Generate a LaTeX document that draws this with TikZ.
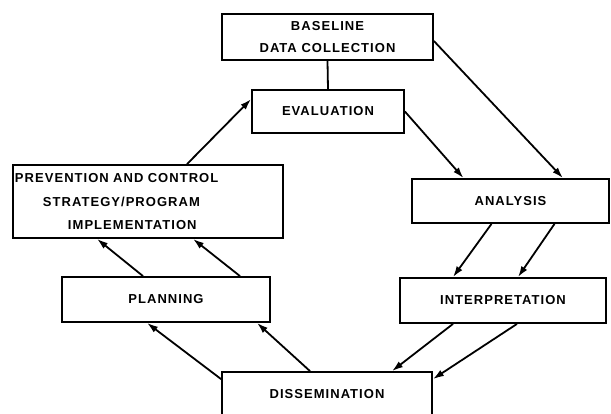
\documentclass[tikz,border=0pt]{standalone}
\usepackage{fontspec}
\setmainfont{Liberation Sans}[LetterSpace=8]
\usetikzlibrary{arrows.meta}

\begin{document}
\begin{tikzpicture}[x=1pt,y=-1pt,
  box/.style={rectangle,draw,line width=1.8pt,inner sep=2pt,font=\fontsize{13}{22}\selectfont\bfseries},
  link/.style={line width=1.8pt,-{Latex[length=11pt,width=7pt]}}]
\useasboundingbox (0,0) rectangle (611,413);
\clip (0,0) rectangle (611,413);
\path
(327.5,37) node [box,minimum width=211pt,minimum height=46pt,align=center] (base) {BASELINE\\DATA COLLECTION}
(328,111.5) node [box,minimum width=152pt,minimum height=43pt] (eval) {EVALUATION}
(148,201.5) node [box,text width=266pt,minimum height=73pt,align=left] (prev) {PREVENTION AND CONTROL\\[2pt]\hspace*{28pt}STRATEGY/PROGRAM\\[1pt]\hspace*{53pt}IMPLEMENTATION}
(166,299.5) node [box,minimum width=208pt,minimum height=45pt] (plan) {PLANNING}
(327,394) node [box,minimum width=210pt,minimum height=44pt] (diss) {DISSEMINATION}
(510.5,201) node [box,minimum width=197pt,minimum height=44pt] (ana) {ANALYSIS}
(503,300.5) node [box,minimum width=206pt,minimum height=45pt] (interp) {INTERPRETATION}
;

\draw[line width=1.8pt] (base.south) -- (eval.north);
\draw[link] ([yshift=-4pt]base.east) -- ([xshift=52.5pt]ana.north);
\draw[link] (eval.east) -- ([xshift=-47pt]ana.north);
\draw[link] ([xshift=-19pt]ana.south) -- ([xshift=-50pt]interp.north);
\draw[link] ([xshift=44pt]ana.south) -- ([xshift=15pt]interp.north);
\draw[link] ([xshift=-50pt]interp.south) -- ([xshift=65pt]diss.north);
\draw[link] ([xshift=14pt]interp.south) -- ([yshift=-8pt]diss.north east);
\draw[link] ([yshift=-8pt]diss.north west) -- ([xshift=-19pt]plan.south);
\draw[link] ([xshift=-17pt]diss.north) -- ([xshift=91pt]plan.south);
\draw[link] ([xshift=-23pt]plan.north) -- ([xshift=-51pt]prev.south);
\draw[link] ([xshift=74pt]plan.north) -- ([xshift=45pt]prev.south);
\draw[link] ([xshift=39pt]prev.north) -- ([yshift=-10pt]eval.north west);
\end{tikzpicture}
\end{document}
